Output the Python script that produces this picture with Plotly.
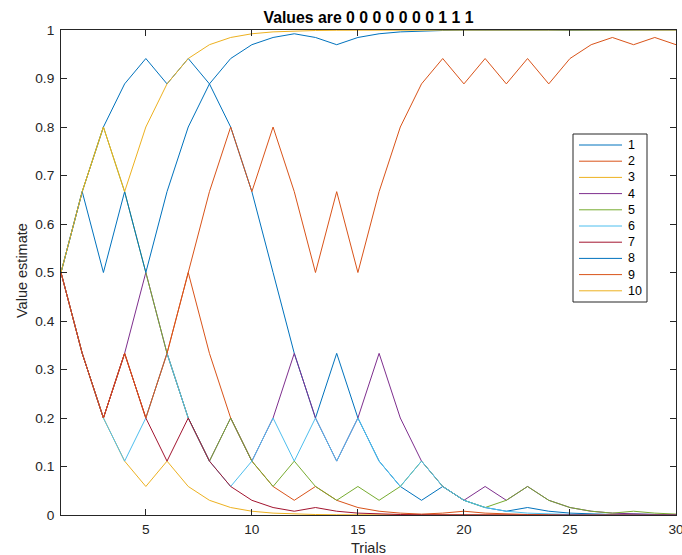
import plotly.graph_objects as go

trials = list(range(1, 31))
series_names = ["1", "2", "3", "4", "5", "6", "7", "8", "9", "10"]

v1 = [.5, .6667, .8, .8889, .9412, .8889, .9412, .8889, .8, .6667, .5, .3333, .2, .3333, .2,
      .1111, .0588, .0303, .0588, .0303, .0154, .0078, .0154, .0078, .0039, .0019, .001, .0019, .001, .0005]
v2 = [.5, .3333, .2, .3333, .2, .3333, .5, .3333, .2, .1111, .0588, .0303, .0588, .0303, .0154,
      .0078, .0039, .0019, .0039, .0078, .0039, .0019, .001, .0005, .0002, .0005, .0002, .0001, .0002, .0001]
v3 = [.5, .3333, .2, .1111, .0588, .1111, .0588, .0303, .0154, .0078, .0039, .0019, .001, .0005, .0002,
      .0001, .0002, .0001, .0001, .0001, .0001, .0001, .0001, .0001, .0001, .0001, .0001, .0001, .0001, .0001]
v4 = [.5, .3333, .2, .3333, .5, .3333, .2, .1111, .2, .1111, .2, .3333, .2, .1111, .2,
      .3333, .2, .1111, .0588, .0303, .0588, .0303, .0588, .0303, .0154, .0078, .0039, .0019, .001, .0005]
v5 = [.5, .6667, .8, .6667, .5, .3333, .2, .1111, .2, .1111, .0588, .1111, .0588, .0303, .0588,
      .0303, .0588, .1111, .0588, .0303, .0154, .0303, .0588, .0303, .0154, .0078, .0039, .0078, .0039, .0019]
v6 = [.5, .3333, .2, .1111, .2, .3333, .2, .1111, .0588, .1111, .2, .1111, .2, .1111, .2,
      .1111, .0588, .1111, .0588, .0303, .0154, .0078, .0039, .0019, .001, .0005, .0002, .0001, .0001, .0001]
v7 = [.5, .3333, .2, .3333, .2, .1111, .2, .1111, .0588, .0303, .0154, .0078, .0154, .0078, .0039,
      .0019, .001, .0005, .0002, .0001, .0001, .0001, .0001, .0001, .0001, .0001, .0001, .0001, .0001, .0001]
v8 = [.5, .6667, .5, .6667, .5, .6667, .8, .8889, .9412, .9697, .9846, .9922, .9846, .9697, .9846,
      .9922, .9961, .9981, .999, .9995, .9998, .9995, .999, .9995, .999, .9995, .9998, .9999, .9998, .9999]
v9 = [.5, .3333, .2, .3333, .2, .3333, .5, .6667, .8, .6667, .8, .6667, .5, .6667, .5,
      .6667, .8, .8889, .9412, .8889, .9412, .8889, .9412, .8889, .9412, .9697, .9846, .9697, .9846, .9697]
v10 = [.5, .6667, .8, .6667, .8, .8889, .9412, .9697, .9846, .9922, .9961, .9981, .999, .9995, .9998,
       .9999, .9999, .9999, .9999, .9999, .9999, .9999, .9999, .9999, .9999, .9999, .9999, .9999, .9999, .9999]

x_tickvals = [5, 10, 15, 20, 25, 30]
y_tickvals = [0, 0.1, 0.2, 0.3, 0.4, 0.5, 0.6, 0.7, 0.8, 0.9, 1]
y_ticktext = ["0", "0.1", "0.2", "0.3", "0.4", "0.5", "0.6", "0.7", "0.8", "0.9", "1"]

colors = ["#0072BD", "#D95319", "#EDB120", "#7E2F8E", "#77AC30",
          "#4DBEEE", "#A2142F", "#0072BD", "#D95319", "#EDB120"]
all_values = [v1, v2, v3, v4, v5, v6, v7, v8, v9, v10]

FONT = "Liberation Sans, Arial, Helvetica, sans-serif"
INK = "#262626"

W, H = 682, 555
L, R, T, B = 61, 6, 30, 40
PW, PH = W - L - R, H - T - B


def px(xp):
    return (xp - L) / PW


def py(yp):
    return (H - B - yp) / PH


fig = go.Figure()
for name, vals, col in zip(series_names, all_values, colors):
    fig.add_trace(go.Scatter(x=trials, y=vals, mode="lines", name=name,
                             line=dict(color=col, width=1), showlegend=False))

axis_common = dict(showline=True, linecolor=INK, linewidth=1, mirror="ticks",
                   ticks="inside", ticklen=6, tickcolor=INK, tickwidth=1,
                   showgrid=False, zeroline=False, automargin=False,
                   tickfont=dict(family=FONT, size=13.7, color=INK))

shapes = []
annotations = []

# legend box (MATLAB style)
shapes.append(dict(type="rect", xref="paper", yref="paper",
                   x0=px(573), x1=px(647), y0=py(302), y1=py(134),
                   line=dict(color=INK, width=1), fillcolor="white", layer="above"))
for i, (name, col) in enumerate(zip(series_names, colors)):
    yc = 145 + i * 16.2
    shapes.append(dict(type="line", xref="paper", yref="paper",
                       x0=px(579), x1=px(622), y0=py(yc), y1=py(yc),
                       line=dict(color=col, width=1), layer="above"))
    annotations.append(dict(text=name, xref="paper", yref="paper",
                            x=px(626), y=py(yc), xanchor="left", yanchor="middle",
                            showarrow=False,
                            font=dict(family=FONT, size=12.5, color="black")))

annotations.append(dict(text="Trials", xref="paper", yref="paper",
                        x=px(368), y=py(548), xanchor="center", yanchor="middle",
                        showarrow=False, font=dict(family=FONT, size=14.5, color=INK)))
annotations.append(dict(text="Value estimate", xref="paper", yref="paper",
                        x=px(22), y=py(271), xanchor="center", yanchor="middle",
                        textangle=-90, showarrow=False,
                        font=dict(family=FONT, size=14.5, color=INK)))

fig.update_layout(
    width=W, height=H,
    margin=dict(l=L, r=R, t=T, b=B, autoexpand=False),
    paper_bgcolor="white", plot_bgcolor="white",
    title=dict(text="<b>Values are 0 0 0 0 0 0 0 1 1 1</b>", x=(L + W - R) / 2 / W,
               xanchor="center", y=1 - 17 / H, yanchor="middle",
               font=dict(family=FONT, size=15.8, color="black")),
    xaxis=dict(range=[1, 30], tickvals=x_tickvals, ticklabelstandoff=2,
               ticklabeloverflow="allow", **axis_common),
    yaxis=dict(range=[0, 1], tickvals=y_tickvals, ticktext=y_ticktext,
               ticklabelstandoff=3, **axis_common),
    shapes=shapes,
    annotations=annotations,
    showlegend=False,
)

fig.write_html("out.html", config={"displayModeBar": False},
               post_script="document.body.style.margin='0';document.body.style.overflow='hidden';")
